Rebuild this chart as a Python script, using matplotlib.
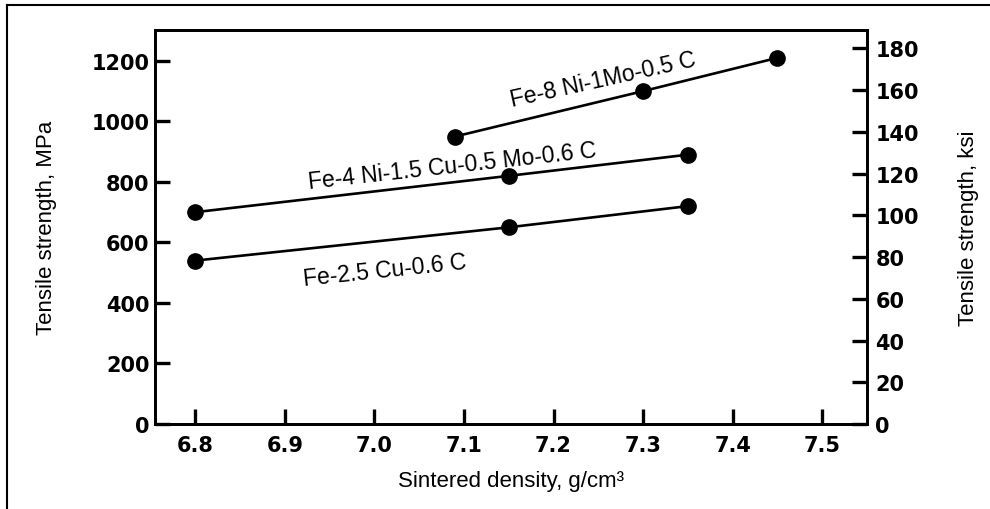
import matplotlib
matplotlib.use("Agg")
import matplotlib.pyplot as plt
from matplotlib.lines import Line2D
from matplotlib.font_manager import FontProperties

# Data (MPa vs sintered density g/cm3)
cu_density = [6.8, 7.15, 7.35]
cu_strength = [540, 650, 720]
nicu_density = [6.8, 7.15, 7.35]
nicu_strength = [700, 820, 890]
ni_density = [7.09, 7.3, 7.45]
ni_strength = [950, 1100, 1210]

series_labels = ["Fe-2.5 Cu-0.6 C", "Fe-4 Ni-1.5 Cu-0.5 Mo-0.6 C", "Fe-8 Ni-1Mo-0.5 C"]
x_ticks = [6.8, 6.9, 7.0, 7.1, 7.2, 7.3, 7.4, 7.5]
y_ticks = [0, 200, 400, 600, 800, 1000, 1200]
ksi_ticks = [0, 20, 40, 60, 80, 100, 120, 140, 160, 180]
MPA_PER_KSI = 6.895

fig = plt.figure(figsize=(9.9, 5.1), dpi=100)
ax = fig.add_axes([155/990, 1-425/510, (867-155)/990, (425-31)/510])

lw = 1.9
for xs, ys in [(cu_density, cu_strength), (nicu_density, nicu_strength), (ni_density, ni_strength)]:
    ax.plot(xs, ys, color="black", lw=lw, marker="o", markersize=11, markerfacecolor="black")

ax.set_xlim(6.755, 7.55)
ax.set_ylim(0, 1302)
ax.set_xticks(x_ticks)
ax.set_xticklabels([f"{v:.1f}" for v in x_ticks])
ax.set_yticks(y_ticks)
ax.set_yticklabels([str(v) for v in y_ticks])
tickfont = dict(family="DejaVu Sans", weight="bold", size=15)
for lab in ax.get_xticklabels() + ax.get_yticklabels():
    lab.set_fontproperties(FontProperties(**tickfont))
ax.tick_params(axis="x", direction="in", length=11, width=2.4, pad=8)
ax.tick_params(axis="y", direction="in", length=11, width=2.4, pad=4)
for s in ax.spines.values():
    s.set_linewidth(2)

labfont = dict(family="Liberation Sans", size=16)
ax.set_xlabel("Sintered density, g/cm³", labelpad=11, **labfont)
ax.set_ylabel("Tensile strength, MPa", labelpad=25, **labfont)

ax2 = ax.twinx()
ax2.set_ylim(0, 1302 / MPA_PER_KSI)
ax2.set_yticks(ksi_ticks)
ax2.set_yticklabels([str(v) for v in ksi_ticks])
for lab in ax2.get_yticklabels():
    lab.set_fontproperties(FontProperties(**tickfont))
ax2.tick_params(axis="y", direction="in", length=11, width=2.4, pad=6)
for s in ax2.spines.values():
    s.set_linewidth(2)
ax2.set_ylabel("Tensile strength, ksi", labelpad=28, **labfont)

sfont = dict(family="Liberation Sans", size=16.5)
ax.text(7.012, 510, series_labels[0], rotation=6, ha="center", va="center", rotation_mode="anchor", **sfont)
ax.text(7.087, 855, series_labels[1], rotation=6.3, ha="center", va="center", rotation_mode="anchor", **sfont)
ax.text(7.255, 1138, series_labels[2], rotation=12.5, ha="center", va="center", rotation_mode="anchor", **sfont)

# outer frame lines
fig.add_artist(Line2D([7/990, 1.0], [1-6/510, 1-6/510], color="black", lw=1.5, transform=fig.transFigure))
fig.add_artist(Line2D([7/990, 7/990], [0, 1-6/510], color="black", lw=1.5, transform=fig.transFigure))

fig.savefig("out.png", dpi=100)
